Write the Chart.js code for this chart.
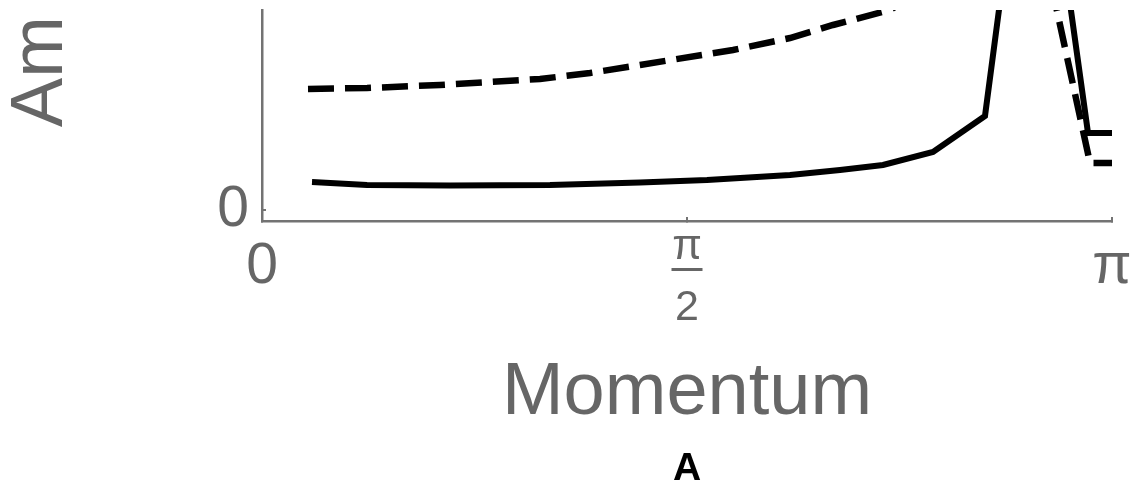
<!DOCTYPE html>
<html>
<head>
<meta charset="utf-8">
<script src="https://cdn.jsdelivr.net/npm/chart.js@4"></script>
<style>
  html, body { margin: 0; padding: 0; background: #fff; }
  canvas { display: block; }
</style>
</head>
<body>
<canvas id="chart" width="1138" height="487"></canvas>
<script>
// Momentum (rad) vs amplitude
const solidX = [0.1848, 0.3881, 0.6949, 1.0644, 1.3971, 1.6447, 1.9515, 2.1363, 2.2952, 2.4800, 2.6722, 2.8533, 3.0529, 3.1416];
const solidY = [0.140, 0.125, 0.1225, 0.125, 0.1375, 0.150, 0.175, 0.200, 0.225, 0.290, 0.470, 2.33, 0.385, 0.385];

const dashedX = [0.1700, 0.3881, 0.6579, 1.0275, 1.2123, 1.3971, 1.7408, 1.9515, 2.1104, 2.3211, 2.5059, 2.6722, 2.8533, 3.0603, 3.1416];
const dashedY = [0.605, 0.610, 0.625, 0.655, 0.685, 0.725, 0.800, 0.860, 0.925, 1.000, 1.15, 1.30, 1.525, 0.235, 0.235];

const xTickValues = [0, 1.5708, 3.1416];
const xTickLabels = ['0', ['π', '2'], 'π'];
const yTickValues = [0];
const yTickLabels = ['0'];

const axisColor = '#737373';
const textColor = '#666666';

Chart.defaults.font.family = "'Liberation Sans', Arial, sans-serif";

function toPoints(xs, ys) {
    return xs.map((x, i) => ({ x: x, y: ys[i] }));
}

// draws the bar of the pi/2 fraction under its tick
const fractionBar = {
    id: 'fractionBar',
    afterDraw(chart) {
        const s = chart.scales.x;
        const x = s.getPixelForValue(xTickValues[1]);
        const ctx = chart.ctx;
        ctx.save();
        ctx.fillStyle = textColor;
        ctx.fillRect(x - 15.5, s.top + 47, 31, 3);
        ctx.restore();
    }
};

new Chart(document.getElementById('chart'), {
    type: 'line',
    data: {
        datasets: [
            {
                data: toPoints(solidX, solidY),
                borderColor: '#000',
                borderWidth: 6,
                pointRadius: 0,
                tension: 0,
                clip: 0
            },
            {
                data: toPoints(dashedX, dashedY),
                borderColor: '#000',
                borderWidth: 6.5,
                borderDash: [26, 11],
                pointRadius: 0,
                tension: 0,
                clip: 0
            }
        ]
    },
    options: {
        responsive: false,
        animation: false,
        layout: { padding: { left: 0, top: 10, right: 26, bottom: 0 } },
        plugins: {
            legend: { display: false },
            tooltip: { enabled: false },
            title: {
                display: true,
                position: 'bottom',
                fullSize: false,
                text: 'A',
                color: '#000',
                font: { size: 39, weight: 'bold', lineHeight: 0.923 },
                padding: 0
            }
        },
        scales: {
            x: {
                type: 'linear',
                min: 0,
                max: Math.PI,
                afterBuildTicks: s => { s.ticks = xTickValues.map(v => ({ value: v })); },
                afterFit: s => { s.height = 230; s.paddingLeft = 0; s.paddingRight = 0; },
                border: { color: axisColor, width: 2.5 },
                grid: { drawOnChartArea: false, drawTicks: true, tickLength: -4, color: axisColor, lineWidth: 2 },
                ticks: {
                    autoSkip: false,
                    maxRotation: 0,
                    padding: 0,
                    color: textColor,
                    font: ctx => ctx.index === 1 ? { size: 43, lineHeight: 1.41 } : { size: 57, lineHeight: 1.75 },
                    callback: (v, i) => xTickLabels[i]
                },
                title: {
                    display: true,
                    text: 'Momentum',
                    color: textColor,
                    font: { size: 74, lineHeight: 1 },
                    padding: { top: 0, bottom: 20.5 }
                }
            },
            y: {
                min: -0.055,
                max: 1.0,
                afterBuildTicks: s => { s.ticks = yTickValues.map(v => ({ value: v })); },
                afterFit: s => { s.width = 262; s.paddingTop = 0; s.paddingBottom = 0; },
                border: { color: axisColor, width: 2.5 },
                grid: { drawOnChartArea: false, drawTicks: true, tickLength: -4, color: axisColor, lineWidth: 2 },
                ticks: {
                    padding: 17,
                    color: textColor,
                    font: { size: 57 },
                    callback: (v, i) => yTickLabels[i]
                },
                title: {
                    display: true,
                    text: 'Am\u200A',
                    align: 'end',
                    color: textColor,
                    font: { size: 74, lineHeight: 1 },
                    padding: { top: 4.5, bottom: 0 }
                }
            }
        }
    },
    plugins: [fractionBar]
});
</script>
</body>
</html>
